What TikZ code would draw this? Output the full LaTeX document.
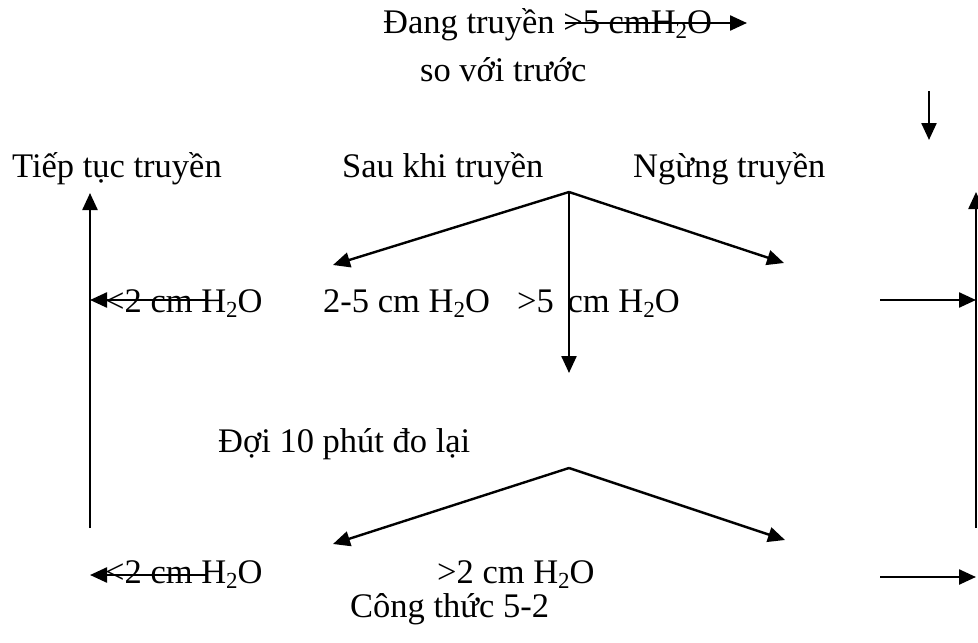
\documentclass[tikz,border=0pt]{standalone}
\usepackage{fontspec}
\setmainfont{Liberation Serif}
\usetikzlibrary{arrows.meta}
\newcommand\subtwo{\raisebox{-0.16em}{\fontsize{23}{23}\selectfont 2}}
\begin{document}
\begin{tikzpicture}[x=1pt,y=-1pt,
  lbl/.style={anchor=base west, inner sep=0pt, font=\fontsize{34.5}{41}\selectfont},
  arr/.style={line width=2.4pt, -{Triangle[length=17pt,width=15pt]}},
  ln/.style={line width=2.4pt}]
\useasboundingbox (0,0) rectangle (978,643);
% texts
\node[lbl] (top) at (383,33) {Đang truyền >5 cmH\subtwo O};
\node[lbl] (sovoi) at (420,81) {so với trước};
\node[lbl] (tiep) at (12,177) {Tiếp tục truyền};
\node[lbl] (sau) at (342,177) {Sau khi truyền};
\node[lbl] (ngung) at (633,177) {Ngừng truyền};
\node[lbl] (lt1) at (105,312) {<2 cm H\subtwo O};
\node[lbl] (mid1) at (323,312) {2-5 cm H\subtwo O};
\node[lbl] (gt1) at (517,312) {>5\hspace{0.4em}cm H\subtwo O};
\node[lbl] (doi) at (218,452) {Đợi 10 phút đo lại};
\node[lbl] (lt2) at (105,583) {<2 cm H\subtwo O};
\node[lbl] (gt2) at (437,583) {>2 cm H\subtwo O};
\node[lbl] (ct) at (350,617) {Công thức 5-2};
% coordinates
\coordinate (ts) at (565,23);  \coordinate (te) at (747,23);
\coordinate (rd1) at (929,91); \coordinate (rd2) at (929,140);
\coordinate (rvb) at (976,528); \coordinate (rvt) at (976,192);
\coordinate (rh1s) at (880,300); \coordinate (rh1e) at (976,300);
\coordinate (rh2s) at (880,577); \coordinate (rh2e) at (976,577);
\coordinate (lvb) at (90,528); \coordinate (lvt) at (90,193);
\coordinate (lh1s) at (207,300); \coordinate (lh1e) at (90,300);
\coordinate (lh2s) at (207,575); \coordinate (lh2e) at (90,575);
\coordinate (ap1) at (569,192);
\coordinate (l1) at (333,265); \coordinate (r1) at (784,263); \coordinate (d1) at (569,373);
\coordinate (ap2) at (569,468);
\coordinate (l2) at (333,544); \coordinate (r2) at (785,540);
% connectors
\draw[arr] (ts) -- (te);
\draw[arr] (rd1) -- (rd2);
\draw[arr] (rvb) -- (rvt);
\draw[arr] (rh1s) -- (rh1e);
\draw[arr] (rh2s) -- (rh2e);
\draw[arr] (lvb) -- (lvt);
\draw[arr] (lh1s) -- (lh1e);
\draw[arr] (lh2s) -- (lh2e);
\draw[arr] (ap1) -- (l1);
\draw[arr] (ap1) -- (r1);
\draw[arr] (ap1) -- (d1);
\draw[arr] (ap2) -- (l2);
\draw[arr] (ap2) -- (r2);
\end{tikzpicture}
\end{document}
